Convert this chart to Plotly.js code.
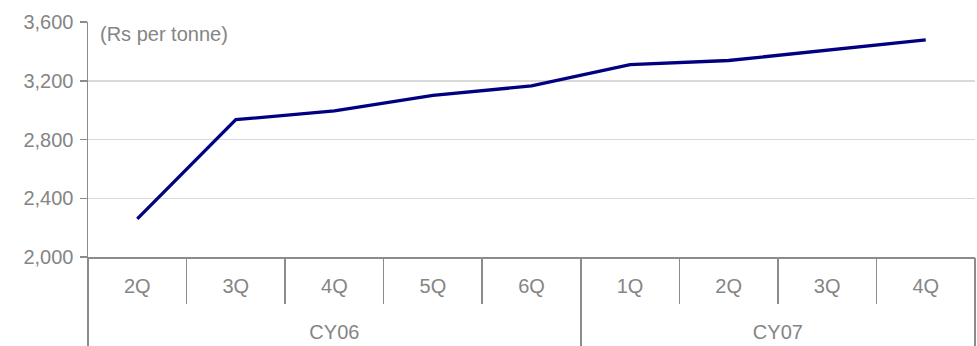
<!DOCTYPE html>
<html>
<head>
<meta charset="utf-8">
<script src="https://cdn.plot.ly/plotly-3.0.1.min.js"></script>
<style>html,body{margin:0;padding:0;background:#fff;}#chart{width:977px;height:346px;}</style>
</head>
<body>
<div id="chart"></div>
<script>
const quarters = ["2Q","3Q","4Q","5Q","6Q","1Q","2Q","3Q","4Q"];
const years = ["CY06","CY07"];
const quartersPerYear = [5, 4];
const price = [2260, 2935, 2995, 3100, 3165, 3310, 3338, 3408, 3478];
const yTicks = [2000, 2400, 2800, 3200, 3600];
const unitLabel = "(Rs per tonne)";

const gray = "#8c8c8c";
const textGray = "#858585";
const FONT = "Liberation Sans, Arial, sans-serif";
const FS = 20;

const xIdx = quarters.map((_, i) => i);
const qBounds = quarters.map((_, i) => i - 0.5).concat([quarters.length - 0.5]);
let yBounds = [-0.5], yCenters = [], acc = 0;
quartersPerYear.forEach(n => { yCenters.push(acc + (n - 1) / 2); acc += n; yBounds.push(acc - 0.5); });
const xr = [-0.5, quarters.length - 0.5];

Plotly.newPlot("chart", [
  {type: "scatter", mode: "lines", x: xIdx, y: price,
   line: {color: "#000080", width: 3.3}, hoverinfo: "skip"},
  {type: "scatter", mode: "lines", x: [], y: [], xaxis: "x2", hoverinfo: "skip"},
  {type: "scatter", mode: "lines", x: [], y: [], xaxis: "x3", hoverinfo: "skip"}
], {
  width: 977, height: 346,
  margin: {l: 88, r: 2, t: 22, b: 89},
  paper_bgcolor: "#fff", plot_bgcolor: "#fff",
  showlegend: false,
  font: {family: FONT, size: FS, color: textGray},
  xaxis: {
    range: xr, showgrid: false, zeroline: false,
    tickmode: "array", tickvals: xIdx, ticktext: quarters,
    ticks: "", ticklabelstandoff: 10,
    showline: true, linecolor: gray, linewidth: 1.5,
    tickfont: {family: FONT, size: FS, color: textGray},
    minor: {tickmode: "array", tickvals: qBounds, ticks: "outside", ticklen: 45,
            tickcolor: gray, tickwidth: 1.5, showgrid: false}
  },
  xaxis2: {
    overlaying: "x", anchor: "y", side: "bottom", range: xr,
    showgrid: false, zeroline: false, showline: false,
    tickmode: "array", tickvals: yBounds, ticks: "outside", ticklen: 89,
    tickcolor: gray, tickwidth: 1.5, showticklabels: false
  },
  xaxis3: {
    overlaying: "x", anchor: "y", side: "bottom", range: xr,
    showgrid: false, zeroline: false, showline: false,
    tickmode: "array", tickvals: yCenters, ticktext: years, ticks: "",
    ticklabelstandoff: 61,
    tickfont: {family: FONT, size: FS, color: textGray}
  },
  yaxis: {
    range: [2000, 3600], tickmode: "array", tickvals: yTicks, tickformat: ",",
    showline: true, linecolor: gray, linewidth: 1.5,
    ticks: "outside", ticklen: 7, tickcolor: gray, tickwidth: 1.5,
    ticklabelstandoff: 2,
    gridcolor: "#d9d9d9", gridwidth: 1.5,
    zeroline: false,
    tickfont: {family: FONT, size: FS, color: textGray}
  },
  annotations: [{
    xref: "paper", yref: "paper", x: 0.011, y: 0.95,
    xanchor: "left", yanchor: "middle", showarrow: false,
    text: unitLabel, font: {family: FONT, size: FS, color: textGray}
  }]
}, {staticPlot: true, displayModeBar: false});
</script>
</body>
</html>
